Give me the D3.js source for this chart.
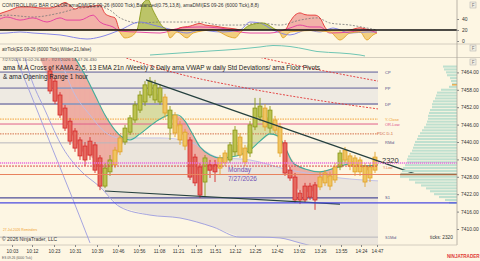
<!DOCTYPE html>
<html><head><meta charset="utf-8">
<script src="https://cdn.jsdelivr.net/npm/d3@7"></script>
<style>body{margin:0;background:#fdf6e3;}svg{display:block}text{font-family:"Liberation Sans",Arial,sans-serif}</style>
</head><body><svg id="c" width="480" height="261"></svg>
<script>
// ---------------- DATA ----------------
const opens  = [7464.5,7461.0,7456.2,7451.7,7447.2,7443.8,7440.7,7438.6,7435.5,7439.0,7434.5,7424.8,7429.7,7432.1,7436.6,7440.0,7443.4,7447.6,7451.0,7453.8,7456.2,7459.7,7453.8,7455.5,7444.8,7449.3,7445.9,7443.4,7440.7,7434.8,7431.4,7426.2,7432.1,7432.1,7431.0,7432.8,7433.8,7436.6,7441.7,7437.9,7436.2,7445.2,7448.6,7451.7,7444.8,7447.6,7445.2,7439.7,7430.3,7427.9,7422.4,7420.0,7424.8,7420.0,7424.5,7425.9,7428.3,7426.9,7431.4,7437.2,7435.2,7434.5,7433.8,7431.7,7427.6,7430.3];
const highs  = [7465.9,7462.1,7457.2,7452.8,7448.3,7444.8,7441.7,7440.0,7441.7,7440.0,7435.5,7432.8,7435.5,7438.3,7442.4,7445.9,7449.3,7454.1,7457.6,7461.0,7462.4,7461.4,7460.0,7456.6,7452.4,7450.3,7447.2,7444.5,7441.7,7435.9,7432.8,7435.5,7433.8,7433.8,7435.5,7437.2,7440.0,7445.5,7443.1,7439.0,7447.2,7455.2,7455.2,7453.1,7452.4,7449.0,7446.6,7440.7,7431.4,7429.3,7423.4,7425.9,7425.9,7426.2,7429.7,7430.3,7429.7,7432.8,7437.2,7438.3,7436.2,7435.5,7434.8,7432.8,7432.8,7436.6];
const lows   = [7456.6,7453.1,7448.3,7443.8,7439.0,7436.6,7433.8,7431.7,7433.8,7429.3,7423.4,7424.1,7428.3,7431.0,7435.5,7439.0,7442.4,7446.6,7450.0,7452.4,7455.2,7453.4,7452.8,7448.3,7440.7,7441.7,7439.0,7437.2,7426.9,7424.8,7420.7,7421.0,7427.6,7426.2,7428.6,7431.7,7432.8,7435.2,7434.5,7431.7,7434.8,7444.1,7447.2,7443.8,7443.1,7443.1,7434.8,7428.3,7426.6,7419.0,7418.6,7419.0,7420.0,7416.6,7423.4,7424.8,7423.4,7425.9,7430.3,7432.8,7430.3,7428.3,7428.3,7424.5,7426.2,7429.3];
const closes = [7457.6,7454.1,7449.3,7444.8,7440.3,7437.9,7435.2,7433.8,7440.3,7430.3,7424.8,7431.0,7433.8,7437.2,7441.4,7444.8,7448.3,7452.8,7456.2,7459.7,7461.0,7454.5,7458.6,7450.0,7451.0,7443.1,7440.7,7438.6,7427.9,7425.9,7421.7,7434.5,7430.3,7429.7,7434.5,7436.2,7439.0,7444.1,7435.5,7433.1,7445.9,7451.7,7452.4,7445.2,7451.0,7444.1,7436.2,7429.3,7427.6,7420.0,7420.0,7424.8,7421.0,7425.2,7427.9,7429.3,7424.8,7431.4,7436.2,7433.8,7431.7,7429.7,7429.7,7426.2,7431.4,7434.8];
const barTrend = ["dn","dn","dn","dn","dn","dn","dn","dn","dn","dn","dn","up","up","flat","flat","up","up","up","up","up","up","up","up","flat","up","flat","flat","flat","dn","dn","dn","up","dn","dn","flat","flat","up","up","flat","flat","up","up","up","flat","up","flat","flat","dn","dn","dn","dn","dn","dn","dn","flat","flat","flat","flat","up","flat","flat","flat","flat","flat","flat","flat"];

// fast MA (from bar -2) and slow EMA (teal) [bar, price]
const fastStart = -2;
const fastMA = [7469.0,7464.8,7460.7,7457.2,7452.8,7448.3,7444.1,7440.7,7437.9,7435.5,7435.2,7433.8,7430.3,7428.6,7430.3,7433.8,7437.9,7441.4,7444.8,7449.3,7452.8,7456.2,7457.9,7457.2,7455.9,7452.8,7449.3,7446.9,7444.1,7441.4,7437.2,7432.1,7428.6,7429.7,7430.3,7431.0,7432.1,7433.8,7435.5,7439.0,7439.0,7437.2,7440.7,7446.9,7449.3,7448.6,7448.3,7445.9,7442.4,7435.5,7430.3,7425.2,7422.8,7422.8,7422.8,7423.4,7425.9,7427.6,7427.6,7429.7,7433.1,7434.8,7433.8,7432.8,7432.1,7430.3,7430.3,7432.4];
const slowEMA = [[-3,7488],[-1,7482],[2,7475],[5,7469],[7,7463.1],[9,7456.2],[11,7449.3],[13,7444.1],[14.4,7441.7],[16,7440.7],[18,7442.8],[20,7445.5],[22,7447.9],[24,7449.3],[25.6,7449.3],[27,7447.2],[28.4,7443.1],[30,7438.3],[32,7435.5],[34,7434.5],[36,7434.8],[38,7435.5],[40,7437.2],[42,7440.3],[44,7442.8],[45.6,7442.1],[47,7438.3],[48.6,7432.8],[51,7430.7],[54,7429.7],[57,7431.0],[60,7432.4],[63,7431.7],[65.6,7432.1]];

// VWAP and bands [bar, price]
const vwapLine   = [[2,7469],[4.6,7457.6],[8,7449.3],[11,7443.4],[14,7441.4],[22,7441.4],[28,7440.0],[33.4,7434.8],[40,7433.8],[48,7430.3],[54,7428.6],[58,7427.6],[65.6,7426.6]];
const lowerBand2 = [[-5,7469],[-4,7463.1],[-1,7451],[2.6,7437.9],[6,7430.3],[10,7424.5],[14,7417.6],[20,7414.8],[26,7413.8],[32.6,7410.7],[38,7407.2],[42,7407.2],[46,7406.9],[50,7405.2],[54,7403.4]];
const lowerBand1 = [[-6.8,7469.0],[-3,7452.8],[0.6,7437.2],[4.4,7421.0],[8,7405.2]];
const stdUpper1  = [[14.6,7469.3],[26,7463.4],[38,7459.0],[52,7454.8],[65.6,7451.4]];
const stdUpper2  = [[36,7471.5],[50,7466.2],[65.6,7461.0]];
const trendUpper = [[19.2,7461.4],[73,7429.0]];
const trendLower = [[11,7423.1],[58,7418.6]];

// pivot levels
const levelNames  = ["CP","PP","DP","Y-Close","OR-Low","PDC D-1","RMid","S1","S1Mid"];
const levelPrices = [7464.1,7458.6,7453.1,7447.9,7446.2,7442.8,7439.7,7420.7,7407.2];
const extNames  = ["Last","Y-Low","ORH","WVWAP"];
const extPrices = [7432.8,7431.7,7428.8,7419.0];

// volume profile (7466 down to 7419)
const volTop = 7466;
const volValues = [14,13,11,10,7,6,5,8,16,20,21,22,24,25,25,27,28,29,29,30,31,33,35,37,39,40,42,43,44,45,47,49,50,50,52,54,55,56,57,48,42,36,31,27,23,18,12,8];

// axis labels
const timeLabels = ["10:03","10:12","10:23","10:31","10:39","10:46","10:56","11:08","11:21","11:35","11:51","12:12","12:25","12:42","13:02","13:26","13:55","14:24","14:47"];
const timeIdx    = [-7.6,-3.6,0.8,5,9.4,13.6,17.8,21.8,25.6,29.2,33,37,41,45.4,49.8,54,58.2,62.2,65.4];
const priceTicks = [7410,7416,7422,7428,7434,7440,7446,7452,7458,7464];
const oscTicks = [0,20,40];

// DMI panel [bar, value]
const dmiRed = [[-10,50],[-8,56],[-6,62],[-4,62],[-2,60],[0,60],[1,62],[2,66],[3,70],[4,65],[5,58],[6,62],[7,62],[8,63],[9,64],[10,65],[11,50],[12,45],[13,42],[14,20],[25,20],[26,24],[28,27],[30,32],[31,29],[33,27],[35,24],[37,22],[38,20],[40,18],[44,15],[46,18],[47,20],[48,35],[49,47],[50,51],[51,48],[52,47],[53,47],[54,42],[55,25],[56,16],[58,18],[60,20],[62,24],[63,22],[64,20],[65.6,16]];
const dmiMag = [[-10,40],[-8.6,43.6],[-6,38],[-3.4,42],[-0.6,34.5],[2,42],[3.4,38],[6,38],[8.6,47],[10,34.5],[12.6,25.5],[14,18],[18,16],[22,14.5],[26,23.6],[30,25.5],[34,23.6],[38,16.4],[40,14.5],[44,14.5],[48,23.6],[50,29],[52,25.5],[54,25.5],[56,14.5],[60,16.4],[63.4,20],[65.4,14.5]];
const adx = [[-10,46],[-8.6,47],[-3.4,43.6],[2,51],[6,60],[10,62],[12,56],[14,42],[18,32.7],[22,34.5],[26,34.5],[30,34.5],[34,29],[38,29],[42,32.7],[46,29],[50,38],[53.4,42],[56,32.7],[60,29],[63.4,23.6],[65.4,20]];
const dmiBlue = [[-10,14],[-8.6,14.5],[-6,16.4],[-3.4,14.5],[2,11],[7.4,3.6],[10,7.3],[14,20],[18,34.5],[20.6,29],[24.6,20],[27.4,14.5],[30,20],[34,16.4],[38,20],[40,34.5],[42,32.7],[44.6,20],[48,11],[51.4,20],[54,16.4],[56.6,23.6],[60,14.5],[63.4,16.4],[65.4,16.4]];
const dmiOsc = [[-10,20],[13.4,20],[15,5.5],[16,7.3],[17.4,20],[18.6,69],[19.6,75],[20.6,56],[22.6,25.5],[23.4,20],[24,5.5],[25.4,16.4],[27.4,5.5],[28.6,14.5],[32.6,20],[36,7.3],[37,5.5],[38,14.5],[40,29],[42.6,32.7],[44.6,23.6],[46,14.5],[46.6,5.5],[48,16.4],[50,18],[52,19],[54,18],[56,16.4],[58,1.8],[60,14.5],[62,16.4],[63.4,1.8],[64.6,11],[65.4,14.5]];

// ATR panel [bar, value]
const atr = [[20,2.08],[26,2.67],[32,3.25],[38,3.83],[42,4.42],[44.6,4.85],[48,4.56],[51.4,3.69],[53.4,3.1],[58,2.67],[62,2.08],[63,1.8]];

// ---------------- DRAW ----------------
const svg = d3.select("#c");
svg.append("rect").attr("width",480).attr("height",261).attr("fill","#fdf6e3");
const defs = svg.append("defs");
function clip(id,x0,y0,w,h){defs.append("clipPath").attr("id",id).append("rect").attr("x",x0).attr("y",y0).attr("width",w).attr("height",h);}
clip("cMain",0,58,457,187); clip("cTop",0,0,457,43); clip("cAtr",0,44,457,13);
clip("cAbove",0,0,457,30); clip("cBelow",0,30,457,13);

const x = d3.scaleLinear().domain([-10,81.4]).range([0,457]);
const yP = d3.scaleLinear().domain([7410,7464]).range([229,72.4]);
const yO = d3.scaleLinear().domain([0,40]).range([41,19]);
const yA = d3.scaleLinear().domain([1.5,5]).range([57,45]);
const vx = d3.scaleLinear().domain([0,60]).range([457,397]);

const lineP = d3.line().x(d=>x(d[0])).y(d=>yP(d[1]));
const lineS = d3.line().x(d=>x(d[0])).y(d=>yP(d[1])).curve(d3.curveMonotoneX);
const lineO = d3.line().x(d=>x(d[0])).y(d=>yO(d[1])).curve(d3.curveMonotoneX);

// ---- top DMI panel
const topG = svg.append("g").attr("clip-path","url(#cTop)");
const areaO = d3.area().x(d=>x(d[0])).y0(yO(20)).y1(d=>yO(d[1])).curve(d3.curveMonotoneX);
topG.append("g").attr("clip-path","url(#cAbove)").append("path").datum(dmiRed).attr("d",areaO).attr("fill","#f2b2a8");
topG.append("g").attr("clip-path","url(#cAbove)").append("path").datum(dmiOsc).attr("d",areaO).attr("fill","#bcc468");
topG.append("g").attr("clip-path","url(#cBelow)").append("path").datum(dmiOsc).attr("d",areaO).attr("fill","#f3cf80");
topG.append("path").datum(adx).attr("d",lineO).attr("fill","none").attr("stroke","#777").attr("stroke-width",0.8).attr("stroke-dasharray","2,1.5");
topG.append("path").datum(dmiBlue).attr("d",lineO).attr("fill","none").attr("stroke","#7b7be6").attr("stroke-width",0.9);
topG.append("path").datum(dmiMag).attr("d",lineO).attr("fill","none").attr("stroke","#e2399e").attr("stroke-width",0.9);
topG.append("g").attr("clip-path","url(#cAbove)").append("path").datum(dmiOsc).attr("d",lineO).attr("fill","none").attr("stroke","#8a9a1a").attr("stroke-width",0.9);
topG.append("g").attr("clip-path","url(#cBelow)").append("path").datum(dmiOsc).attr("d",lineO).attr("fill","none").attr("stroke","#e3a52a").attr("stroke-width",0.9);
topG.append("g").attr("clip-path","url(#cAbove)").append("path").datum(dmiRed).attr("d",lineO).attr("fill","none").attr("stroke","#e43030").attr("stroke-width",0.9);
topG.append("line").attr("x1",0).attr("x2",457).attr("y1",yO(20)).attr("y2",yO(20)).attr("stroke","#111").attr("stroke-width",1.4);
svg.append("text").attr("x",2).attr("y",7).attr("font-size",4.9).attr("fill","#333")
  .text("CONTROLLING BAR COLOR amaDMI(ES 09-26 (6000 Tick),Balanced(0.75,13,8), amaDMI(ES 09-26 (6000 Tick),8,8)");
const oAx = svg.append("g").attr("transform","translate(457,0)").call(d3.axisRight(yO).tickValues(oscTicks).tickSize(2).tickFormat(d3.format("d")));
oAx.select(".domain").remove();
oAx.selectAll("text").attr("font-size",5).attr("fill","#333").attr("x",5);
oAx.selectAll("line").attr("stroke","#888");

// separators
[44,57.5].forEach(yy=>svg.append("line").attr("x1",0).attr("x2",480).attr("y1",yy).attr("y2",yy).attr("stroke","#c9c4b6").attr("stroke-width",0.8));

// ---- ATR panel
svg.append("g").attr("clip-path","url(#cAtr)").append("path").datum(atr)
  .attr("d",d3.line().x(d=>x(d[0])).y(d=>yA(d[1])).curve(d3.curveMonotoneX)).attr("fill","none").attr("stroke","#5fbfae").attr("stroke-width",0.9);
svg.append("text").attr("x",2).attr("y",51).attr("font-size",4.5).attr("fill","#333").text("atrTick(ES 09-26 (6000 Tick),Wilder,21,false)");

// ---- main panel
const m = svg.append("g").attr("clip-path","url(#cMain)");
const xEnd = 65.6, xAxisEnd = 81.4;
m.append("rect").attr("x",x(-10)).attr("width",x(xEnd)-x(-10)).attr("y",yP(levelPrices[0])).attr("height",yP(levelPrices[2])-yP(levelPrices[0])).attr("fill","#eeeae2");
const vInt = d3.scaleLinear().domain(vwapLine.map(d=>d[0])).range(vwapLine.map(d=>d[1]));
const lInt = d3.scaleLinear().domain(lowerBand2.map(d=>d[0])).range(lowerBand2.map(d=>d[1]));
const gIdx = d3.range(10, 65.61, 0.4);
m.append("path").datum(gIdx).attr("d",d3.area().x(d=>x(d)).y0(d=>yP(vInt(d))).y1(d=>yP(lInt(d)))).attr("fill","#ebe5dc");

// MA cloud
const sInt = d3.scaleLinear().domain(slowEMA.map(d=>d[0])).range(slowEMA.map(d=>d[1]));
for(let k=0;k<fastMA.length-1;k++){
  const i0=fastStart+k,i1=i0+1;
  const f0=fastMA[k],f1=fastMA[k+1],s0=sInt(i0),s1=sInt(i1);
  const d0=f0-s0,d1=f1-s1;
  const seg=(a,b,fa,fb,sa,sb,dd)=>m.append("path").attr("d",`M${x(a)},${yP(fa)}L${x(b)},${yP(fb)}L${x(b)},${yP(sb)}L${x(a)},${yP(sa)}Z`).attr("fill",dd<0?"#eeaea3":"#d9dca2").attr("stroke",dd<0?"#eeaea3":"#d9dca2").attr("stroke-width",0.3);
  if(d0*d1<0){const t=d0/(d0-d1),im=i0+t,fm=f0+(f1-f0)*t;seg(i0,im,f0,fm,s0,fm,d0);seg(im,i1,fm,f1,fm,s1,d1);}
  else seg(i0,i1,f0,f1,s0,s1,d0+d1);
}

// level lines
const lvStyle = {"CP":["#9c9ab8",1.8,null],"PP":["#9c9ab8",1.8,null],"DP":["#9c9ab8",1.8,null],"Y-Close":["#f2a23a",1,"1.5,1"],"OR-Low":["#e0608a",1,null],"PDC D-1":["#d4704a",1,"1.5,1"],"RMid":["#b8b6bc",1,null],"S1":["#4e4e9a",1.2,null],"S1Mid":["#b8b6bc",1,null]};
levelNames.forEach((n,k)=>{const s=lvStyle[n];
  m.append("line").attr("x1",x(-10)).attr("x2",x(xEnd)).attr("y1",yP(levelPrices[k])).attr("y2",yP(levelPrices[k])).attr("stroke",s[0]).attr("stroke-width",s[1]).attr("stroke-dasharray",s[2]);});

m.append("path").datum(lowerBand1).attr("d",lineS).attr("fill","none").attr("stroke","#9c9ce0").attr("stroke-width",0.9);
m.append("path").datum(lowerBand2).attr("d",lineS).attr("fill","none").attr("stroke","#9c9ce0").attr("stroke-width",0.9);
m.append("path").datum(vwapLine).attr("d",lineS).attr("fill","none").attr("stroke","#bdbde6").attr("stroke-width",0.9);
m.append("path").datum(slowEMA).attr("d",lineS).attr("fill","none").attr("stroke","#3fae9c").attr("stroke-width",1.1);

// volume profile
const vp = svg.append("g");
volValues.forEach((v,k)=>{const p=volTop-k;
  vp.append("rect").attr("x",vx(v)).attr("width",vx(0)-vx(v)).attr("y",yP(p)-1.1).attr("height",2.1).attr("fill","#bfe0cf");});
vp.append("line").attr("x1",452).attr("x2",457).attr("y1",yP(7459.7)).attr("y2",yP(7459.7)).attr("stroke","#f0a030").attr("stroke-width",1.2);

// candles
const bars = opens.map((o,i)=>({i,o,h:highs[i],l:lows[i],c:closes[i],t:barTrend[i]}));
const col = {dn:{s:"#d62828",f:"#e46a60"},up:{s:"#889614",f:"#bcc250"},flat:{s:"#e2a226",f:"#efc462"}};
m.selectAll(".wk").data(bars).join("line").attr("x1",d=>x(d.i)).attr("x2",d=>x(d.i)).attr("y1",d=>yP(d.h)).attr("y2",d=>yP(d.l)).attr("stroke",d=>col[d.t].s).attr("stroke-width",0.9);
m.selectAll(".bd").data(bars).join("rect").attr("x",d=>x(d.i)-2).attr("width",4).attr("y",d=>yP(Math.max(d.o,d.c))).attr("height",d=>Math.max(1,Math.abs(yP(d.o)-yP(d.c)))).attr("fill",d=>col[d.t].f).attr("stroke",d=>col[d.t].s).attr("stroke-width",0.8);

const extStyle={"Last":["#e86ee0",1.5,"1.2,0.8",xAxisEnd],"Y-Low":["#d83a3a",0.9,"2,1",xEnd],"ORH":["#e8825e",1.2,null,xAxisEnd],"WVWAP":["#4a4ae0",1.1,null,xAxisEnd]};
extNames.forEach((n,k)=>{const s=extStyle[n];
  svg.append("line").attr("x1",x(-10)).attr("x2",x(s[3])).attr("y1",yP(extPrices[k])).attr("y2",yP(extPrices[k])).attr("stroke",s[0]).attr("stroke-width",s[1]).attr("stroke-dasharray",s[2]);});
svg.append("line").attr("x1",400).attr("x2",457).attr("y1",yP(extPrices[2])).attr("y2",yP(extPrices[2])).attr("stroke","#a86a44").attr("stroke-width",1.6);

[stdUpper1,stdUpper2].forEach(a=>m.append("path").datum(a).attr("d",lineS).attr("fill","none").attr("stroke","#e23434").attr("stroke-width",0.9).attr("stroke-dasharray","2,1.5"));
[trendUpper,trendLower].forEach(a=>m.append("path").datum(a).attr("d",lineP).attr("stroke","#25403e").attr("stroke-width",1.2));

// level labels
const lbCol={"CP":"#4a4a88","PP":"#4a4a88","DP":"#4a4a88","Y-Close":"#f0a030","OR-Low":"#e0508a","PDC D-1":"#d0603e","RMid":"#5a5a88","S1":"#4a4a88","S1Mid":"#5a5a88"};
levelNames.forEach((n,k)=>svg.append("text").attr("x",n==="PDC D-1"?377:385).attr("y",yP(levelPrices[k])+1.5).attr("font-size",4).attr("fill",lbCol[n]).text(n));
svg.append("text").attr("x",383).attr("y",yP(extPrices[1])+3.2).attr("font-size",3.5).attr("fill","#e07040").text("Y-Low");
svg.append("text").attr("x",382).attr("y",yP(extPrices[0])+0.5).attr("font-size",7.5).attr("fill","#333").text("2320");

// header texts
svg.append("text").attr("x",2).attr("y",61).attr("font-size",4.3).attr("fill","#555").text("7/27/2026 10:02:26.417 - 7/27/2026 14:47:26.430");
svg.append("text").attr("x",3).attr("y",70).attr("font-size",7).attr("fill","#222").attr("textLength",317).attr("lengthAdjust","spacingAndGlyphs")
  .text("ama M.A  Cross of  KAMA  2, 5, 13 EMA 21n /Weekly & Daily ama VWAP w daily Std Deviations/ ama Floor Pivots");
svg.append("text").attr("x",3).attr("y",79).attr("font-size",7).attr("fill","#222").attr("textLength",85).attr("lengthAdjust","spacingAndGlyphs").text("& ama Opening Range 1 hour");
svg.append("text").attr("x",228).attr("y",172).attr("font-size",6.5).attr("fill","#7250b4").text("Monday");
svg.append("text").attr("x",228).attr("y",181).attr("font-size",6.5).attr("fill","#7250b4").text("7/27/2026");
svg.append("text").attr("x",3).attr("y",231).attr("font-size",3.3).attr("fill","#f0a030").text("27-Jul-2026 Reminders");
svg.append("text").attr("x",2).attr("y",241).attr("font-size",5).attr("fill","#333").text("© 2026 NinjaTrader, LLC");
svg.append("text").attr("x",430).attr("y",239).attr("font-size",4.8).attr("fill","#333").text("ticks: 2320");
svg.append("text").attr("x",2).attr("y",259).attr("font-size",3.2).attr("fill","#555").text("ES 09-26 (6000 Tick)");
svg.append("text").attr("x",447).attr("y",257.5).attr("font-size",4.6).attr("font-weight","bold").attr("fill","#e03a3a").text("NINJATRADER");

// axes
svg.append("line").attr("x1",457).attr("x2",457).attr("y1",0).attr("y2",245).attr("stroke","#a9a59a").attr("stroke-width",0.8);
svg.append("line").attr("x1",0).attr("x2",457).attr("y1",245).attr("y2",245).attr("stroke","#c9c4b6").attr("stroke-width",0.8);
const pAx = svg.append("g").attr("transform","translate(457,0)").call(d3.axisRight(yP).tickValues(priceTicks).tickSize(2).tickFormat(d3.format(".2f")));
pAx.select(".domain").remove();
pAx.selectAll("text").attr("font-size",4.9).attr("fill","#333").attr("x",4);
pAx.selectAll("line").attr("stroke","#888");
const tAx = svg.append("g").attr("transform","translate(0,245)").call(d3.axisBottom(x).tickValues(timeIdx).tickSize(2).tickFormat((d,k)=>timeLabels[k]));
tAx.select(".domain").remove();
tAx.selectAll("text").attr("font-size",4.8).attr("fill","#333").attr("y",5);
tAx.selectAll("line").attr("stroke","#888");
[2,45,59].forEach(yy=>{svg.append("rect").attr("x",470).attr("y",yy).attr("width",6).attr("height",6).attr("fill","#f4efe2").attr("stroke","#aaa").attr("stroke-width",0.5);
 svg.append("text").attr("x",471.7).attr("y",yy+4.8).attr("font-size",4.5).attr("fill","#777").text("F");});
</script></body></html>
